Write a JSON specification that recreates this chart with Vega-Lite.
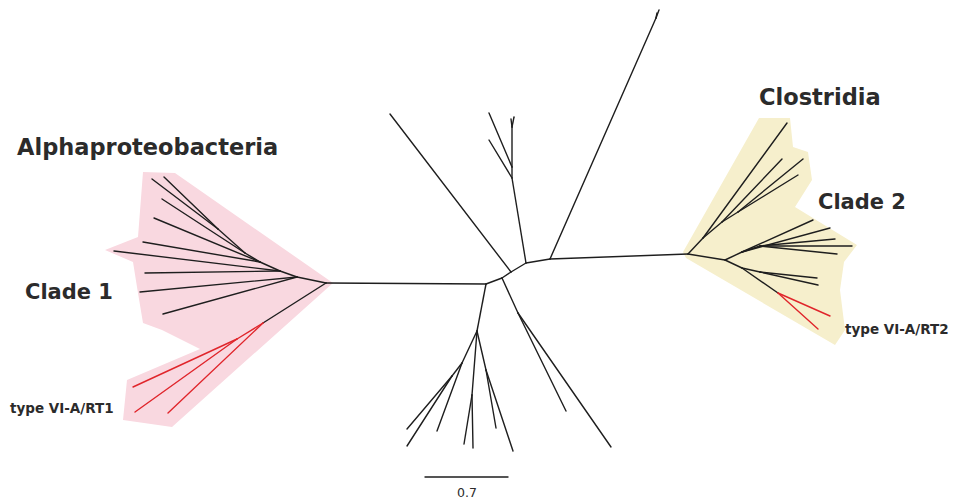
{
  "$schema": "https://vega.github.io/schema/vega-lite/v6.json",
  "width": 953,
  "height": 500,
  "padding": 0,
  "autosize": {"type": "fit", "contains": "padding"},
  "background": "white",
  "config": {"view": {"stroke": null}},
  "datasets": {
    "poly": [
      {"clade": "Clade 1", "i": 0, "x": 143, "y": 172},
      {"clade": "Clade 1", "i": 1, "x": 175, "y": 173},
      {"clade": "Clade 1", "i": 2, "x": 333, "y": 283},
      {"clade": "Clade 1", "i": 3, "x": 172, "y": 427},
      {"clade": "Clade 1", "i": 4, "x": 123, "y": 420},
      {"clade": "Clade 1", "i": 5, "x": 127, "y": 380},
      {"clade": "Clade 1", "i": 6, "x": 200, "y": 349},
      {"clade": "Clade 1", "i": 7, "x": 162, "y": 330},
      {"clade": "Clade 1", "i": 8, "x": 143, "y": 323},
      {"clade": "Clade 1", "i": 9, "x": 137, "y": 287},
      {"clade": "Clade 1", "i": 10, "x": 133, "y": 262},
      {"clade": "Clade 1", "i": 11, "x": 105, "y": 250},
      {"clade": "Clade 1", "i": 12, "x": 138, "y": 237},
      {"clade": "Clade 1", "i": 13, "x": 143, "y": 172},
      {"clade": "Clade 2", "i": 0, "x": 759, "y": 118},
      {"clade": "Clade 2", "i": 1, "x": 790, "y": 118},
      {"clade": "Clade 2", "i": 2, "x": 793, "y": 147},
      {"clade": "Clade 2", "i": 3, "x": 808, "y": 152},
      {"clade": "Clade 2", "i": 4, "x": 812, "y": 180},
      {"clade": "Clade 2", "i": 5, "x": 795, "y": 207},
      {"clade": "Clade 2", "i": 6, "x": 857, "y": 245},
      {"clade": "Clade 2", "i": 7, "x": 844, "y": 262},
      {"clade": "Clade 2", "i": 8, "x": 840, "y": 290},
      {"clade": "Clade 2", "i": 9, "x": 845, "y": 330},
      {"clade": "Clade 2", "i": 10, "x": 835, "y": 345},
      {"clade": "Clade 2", "i": 11, "x": 686, "y": 258},
      {"clade": "Clade 2", "i": 12, "x": 683, "y": 252},
      {"clade": "Clade 2", "i": 13, "x": 759, "y": 118}
    ],
    "segs": [
      {"x": 326, "y": 283, "x2": 486, "y2": 284, "g": "k"},
      {"x": 486, "y": 284, "x2": 502, "y2": 278, "g": "k"},
      {"x": 502, "y": 278, "x2": 511, "y2": 272, "g": "k"},
      {"x": 511, "y": 272, "x2": 526, "y2": 263, "g": "k"},
      {"x": 526, "y": 263, "x2": 550, "y2": 259, "g": "k"},
      {"x": 550, "y": 259, "x2": 688, "y2": 254, "g": "k"},
      {"x": 511, "y": 272, "x2": 390, "y2": 114, "g": "k"},
      {"x": 526, "y": 263, "x2": 512, "y2": 178, "g": "k"},
      {"x": 512, "y": 178, "x2": 489, "y2": 140, "g": "k"},
      {"x": 512, "y": 178, "x2": 512, "y2": 167, "g": "k"},
      {"x": 512, "y": 167, "x2": 489, "y2": 113, "g": "k"},
      {"x": 512, "y": 167, "x2": 512, "y2": 127, "g": "k"},
      {"x": 512, "y": 127, "x2": 511, "y2": 119, "g": "k"},
      {"x": 512, "y": 127, "x2": 514, "y2": 117, "g": "k"},
      {"x": 550, "y": 259, "x2": 656, "y2": 18, "g": "k"},
      {"x": 656, "y": 18, "x2": 659, "y2": 10, "g": "k"},
      {"x": 656, "y": 18, "x2": 657, "y2": 13, "g": "k"},
      {"x": 486, "y": 284, "x2": 477, "y2": 331, "g": "k"},
      {"x": 477, "y": 331, "x2": 462, "y2": 363, "g": "k"},
      {"x": 462, "y": 363, "x2": 437, "y2": 431, "g": "k"},
      {"x": 462, "y": 363, "x2": 452, "y2": 376, "g": "k"},
      {"x": 452, "y": 376, "x2": 407, "y2": 429, "g": "k"},
      {"x": 452, "y": 376, "x2": 407, "y2": 446, "g": "k"},
      {"x": 477, "y": 331, "x2": 472, "y2": 395, "g": "k"},
      {"x": 472, "y": 395, "x2": 473, "y2": 448, "g": "k"},
      {"x": 472, "y": 395, "x2": 464, "y2": 444, "g": "k"},
      {"x": 477, "y": 331, "x2": 486, "y2": 370, "g": "k"},
      {"x": 486, "y": 370, "x2": 496, "y2": 428, "g": "k"},
      {"x": 486, "y": 370, "x2": 513, "y2": 451, "g": "k"},
      {"x": 502, "y": 278, "x2": 518, "y2": 313, "g": "k"},
      {"x": 518, "y": 313, "x2": 566, "y2": 411, "g": "k"},
      {"x": 518, "y": 313, "x2": 611, "y2": 447, "g": "k"},
      {"x": 425, "y": 477, "x2": 508, "y2": 477, "g": "k"},
      {"x": 326, "y": 283, "x2": 297, "y2": 277, "g": "k"},
      {"x": 297, "y": 277, "x2": 280, "y2": 271, "g": "k"},
      {"x": 280, "y": 271, "x2": 260, "y2": 262, "g": "k"},
      {"x": 260, "y": 262, "x2": 245, "y2": 253, "g": "k"},
      {"x": 245, "y": 253, "x2": 218, "y2": 229, "g": "k"},
      {"x": 218, "y": 229, "x2": 152, "y2": 179, "g": "k"},
      {"x": 218, "y": 229, "x2": 164, "y2": 177, "g": "k"},
      {"x": 245, "y": 253, "x2": 162, "y2": 199, "g": "k"},
      {"x": 260, "y": 262, "x2": 154, "y2": 218, "g": "k"},
      {"x": 260, "y": 262, "x2": 143, "y2": 242, "g": "k"},
      {"x": 280, "y": 271, "x2": 114, "y2": 251, "g": "k"},
      {"x": 280, "y": 271, "x2": 145, "y2": 273, "g": "k"},
      {"x": 297, "y": 277, "x2": 140, "y2": 292, "g": "k"},
      {"x": 297, "y": 277, "x2": 163, "y2": 314, "g": "k"},
      {"x": 326, "y": 283, "x2": 263, "y2": 323, "g": "k"},
      {"x": 263, "y": 323, "x2": 237, "y2": 339, "g": "r"},
      {"x": 237, "y": 339, "x2": 133, "y2": 387, "g": "r"},
      {"x": 237, "y": 339, "x2": 135, "y2": 412, "g": "r"},
      {"x": 263, "y": 323, "x2": 168, "y2": 413, "g": "r"},
      {"x": 688, "y": 254, "x2": 703, "y2": 238, "g": "k"},
      {"x": 703, "y": 238, "x2": 787, "y2": 123, "g": "k"},
      {"x": 703, "y": 238, "x2": 722, "y2": 222, "g": "k"},
      {"x": 722, "y": 222, "x2": 782, "y2": 159, "g": "k"},
      {"x": 722, "y": 222, "x2": 738, "y2": 212, "g": "k"},
      {"x": 738, "y": 212, "x2": 803, "y2": 159, "g": "k"},
      {"x": 738, "y": 212, "x2": 798, "y2": 175, "g": "k"},
      {"x": 688, "y": 254, "x2": 725, "y2": 260, "g": "k"},
      {"x": 725, "y": 260, "x2": 742, "y2": 252, "g": "k"},
      {"x": 742, "y": 252, "x2": 813, "y2": 220, "g": "k"},
      {"x": 742, "y": 252, "x2": 830, "y2": 228, "g": "k"},
      {"x": 742, "y": 252, "x2": 760, "y2": 246, "g": "k"},
      {"x": 760, "y": 246, "x2": 835, "y2": 239, "g": "k"},
      {"x": 760, "y": 246, "x2": 852, "y2": 246, "g": "k"},
      {"x": 760, "y": 246, "x2": 837, "y2": 254, "g": "k"},
      {"x": 725, "y": 260, "x2": 742, "y2": 268, "g": "k"},
      {"x": 742, "y": 268, "x2": 760, "y2": 272, "g": "k"},
      {"x": 760, "y": 272, "x2": 817, "y2": 278, "g": "k"},
      {"x": 760, "y": 272, "x2": 818, "y2": 285, "g": "k"},
      {"x": 742, "y": 268, "x2": 778, "y2": 293, "g": "k"},
      {"x": 778, "y": 293, "x2": 830, "y2": 316, "g": "r"},
      {"x": 778, "y": 293, "x2": 818, "y2": 329, "g": "r"}
    ],
    "labels": [
      {"t": "Alphaproteobacteria", "x": 17, "y": 155, "kind": "big"},
      {"t": "Clostridia", "x": 759, "y": 105, "kind": "big"},
      {"t": "Clade 1", "x": 25, "y": 299, "kind": "mid"},
      {"t": "Clade 2", "x": 818, "y": 209, "kind": "mid"},
      {"t": "type VI-A/RT1", "x": 10, "y": 413, "kind": "small"},
      {"t": "type VI-A/RT2", "x": 845, "y": 334, "kind": "small"},
      {"t": "0.7", "x": 467, "y": 497, "kind": "scale"}
    ]
  },
  "layer": [
    {
      "data": {"name": "poly"},
      "mark": {"type": "line", "strokeWidth": 0, "interpolate": "linear"},
      "encoding": {
        "x": {"field": "x", "type": "quantitative", "scale": {"domain": [0, 953], "nice": false, "zero": false}, "axis": null},
        "y": {"field": "y", "type": "quantitative", "scale": {"domain": [0, 500], "nice": false, "zero": false, "reverse": true}, "axis": null},
        "order": {"field": "i", "type": "quantitative"},
        "detail": {"field": "clade"},
        "fill": {"field": "clade", "type": "nominal", "scale": {"domain": ["Clade 1", "Clade 2"], "range": ["#f9d8e0", "#f6efcc"]}, "legend": null}
      }
    },
    {
      "data": {"name": "segs"},
      "mark": {"type": "rule", "strokeWidth": 1.4, "strokeCap": "round"},
      "encoding": {
        "x": {"field": "x", "type": "quantitative", "scale": {"domain": [0, 953], "nice": false, "zero": false}, "axis": null},
        "y": {"field": "y", "type": "quantitative", "scale": {"domain": [0, 500], "nice": false, "zero": false, "reverse": true}, "axis": null},
        "x2": {"field": "x2"},
        "y2": {"field": "y2"},
        "color": {"field": "g", "type": "nominal", "scale": {"domain": ["k", "r"], "range": ["#1e1e1e", "#e0252b"]}, "legend": null}
      }
    },
    {
      "data": {"name": "labels"},
      "transform": [{"filter": "datum.kind === 'big'"}],
      "mark": {"type": "text", "align": "left", "baseline": "alphabetic", "font": "DejaVu Sans", "fontWeight": "bold", "fontSize": 22.5, "color": "#2b2b2b"},
      "encoding": {
        "x": {"field": "x", "type": "quantitative", "scale": {"domain": [0, 953], "nice": false, "zero": false}, "axis": null},
        "y": {"field": "y", "type": "quantitative", "scale": {"domain": [0, 500], "nice": false, "zero": false, "reverse": true}, "axis": null},
        "text": {"field": "t"}
      }
    },
    {
      "data": {"name": "labels"},
      "transform": [{"filter": "datum.kind === 'mid'"}],
      "mark": {"type": "text", "align": "left", "baseline": "alphabetic", "font": "DejaVu Sans", "fontWeight": "bold", "fontSize": 21, "color": "#2b2b2b"},
      "encoding": {
        "x": {"field": "x", "type": "quantitative", "scale": {"domain": [0, 953], "nice": false, "zero": false}, "axis": null},
        "y": {"field": "y", "type": "quantitative", "scale": {"domain": [0, 500], "nice": false, "zero": false, "reverse": true}, "axis": null},
        "text": {"field": "t"}
      }
    },
    {
      "data": {"name": "labels"},
      "transform": [{"filter": "datum.kind === 'small'"}],
      "mark": {"type": "text", "align": "left", "baseline": "alphabetic", "font": "DejaVu Sans", "fontWeight": "bold", "fontSize": 13.5, "color": "#2b2b2b"},
      "encoding": {
        "x": {"field": "x", "type": "quantitative", "scale": {"domain": [0, 953], "nice": false, "zero": false}, "axis": null},
        "y": {"field": "y", "type": "quantitative", "scale": {"domain": [0, 500], "nice": false, "zero": false, "reverse": true}, "axis": null},
        "text": {"field": "t"}
      }
    },
    {
      "data": {"name": "labels"},
      "transform": [{"filter": "datum.kind === 'scale'"}],
      "mark": {"type": "text", "align": "center", "baseline": "alphabetic", "font": "DejaVu Sans", "fontSize": 12.5, "color": "#2b2b2b"},
      "encoding": {
        "x": {"field": "x", "type": "quantitative", "scale": {"domain": [0, 953], "nice": false, "zero": false}, "axis": null},
        "y": {"field": "y", "type": "quantitative", "scale": {"domain": [0, 500], "nice": false, "zero": false, "reverse": true}, "axis": null},
        "text": {"field": "t"}
      }
    }
  ]
}
